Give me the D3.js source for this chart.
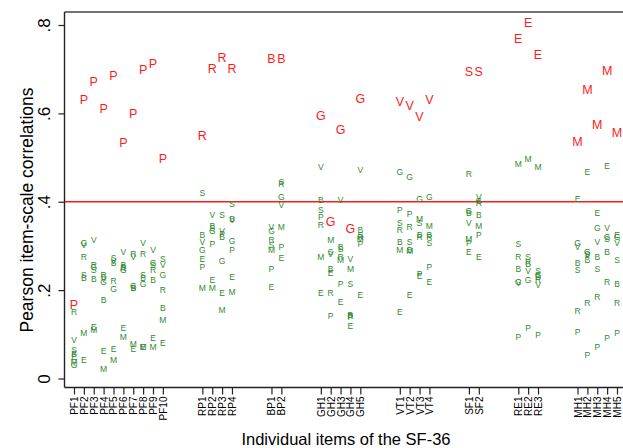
<!DOCTYPE html>
<html><head><meta charset="utf-8">
<script src="https://cdn.jsdelivr.net/npm/d3@7"></script>
<style>
html,body{margin:0;padding:0;background:#fff;}
svg{display:block;font-family:"Liberation Sans",Arial,Helvetica,sans-serif;}
</style></head>
<body><svg id="c" width="623" height="448"></svg>
<script>
// Items of the SF-36, by scale
const groups = ["PF","RP","BP","GH","VT","SF","RE","MH"];
const groupSizes = [10,4,2,5,4,2,3,5];
const scaleLetters = ["P","R","B","G","V","S","E","M"];
const items = ["PF1","PF2","PF3","PF4","PF5","PF6","PF7","PF8","PF9","PF10",
  "RP1","RP2","RP3","RP4","BP1","BP2","GH1","GH2","GH3","GH4","GH5",
  "VT1","VT2","VT3","VT4","SF1","SF2","RE1","RE2","RE3","MH1","MH2","MH3","MH4","MH5"];
const yTicks = [0, 0.2, 0.4, 0.6, 0.8];
const yTickLabels = ["0", ".2", ".4", ".6", ".8"];
const threshold = 0.4;

// Item-scale correlations, one array per scale (order follows items)
const P = [0.168,0.632,0.673,0.610,0.686,0.534,0.600,0.700,0.712,0.497,
  0.253,0.304,0.328,0.292, 0.249,0.298, 0.365,0.141,0.214,0.139,0.304,
  0.381,0.372,0.237,0.253, 0.306,0.325, 0.095,0.115,0.098, 0.105,0.053,0.072,0.091,0.102];
const R = [0.150,0.274,0.257,0.234,0.221,0.250,0.283,0.283,0.246,0.200,
  0.551,0.702,0.727,0.702, 0.313,0.440, 0.347,0.193,0.276,0.142,0.321,
  0.336,0.344,0.321,0.320, 0.464,0.397, 0.276,0.264,0.223, 0.154,0.170,0.185,0.219,0.170];
const B = [0.055,0.227,0.225,0.178,0.262,0.257,0.206,0.227,0.223,0.159,
  0.325,0.345,0.321,0.360, 0.725,0.725, 0.404,0.247,0.298,0.144,0.336,
  0.310,0.292,0.326,0.326, 0.375,0.370, 0.249,0.259,0.229, 0.262,0.268,0.274,0.286,0.213];
const G = [0.031,0.307,0.253,0.219,0.202,0.246,0.209,0.213,0.261,0.234,
  0.291,0.335,0.267,0.312, 0.335,0.411, 0.596,0.355,0.564,0.340,0.634,
  0.467,0.457,0.406,0.410, 0.380,0.402, 0.219,0.222,0.234, 0.307,0.287,0.340,0.320,0.320];
const V = [0.087,0.303,0.313,0.226,0.266,0.287,0.274,0.306,0.291,0.257,
  0.310,0.370,0.333,0.358, 0.344,0.393, 0.479,0.283,0.404,0.270,0.472,
  0.626,0.617,0.592,0.632, 0.352,0.411, 0.217,0.243,0.212, 0.297,0.280,0.310,0.340,0.306];
const S = [0.065,0.234,0.246,0.230,0.272,0.253,0.204,0.234,0.258,0.270,
  0.419,0.340,0.370,0.396, 0.302,0.445, 0.381,0.287,0.294,0.215,0.325,
  0.351,0.310,0.351,0.306, 0.695,0.694, 0.304,0.274,0.244, 0.246,0.283,0.249,0.315,0.268];
const E = [0.048,0.043,0.117,0.063,0.068,0.114,0.068,0.072,0.092,0.081,
  0.270,0.224,0.193,0.229, 0.208,0.272, 0.193,0.238,0.174,0.119,0.189,
  0.150,0.189,0.232,0.219, 0.286,0.274, 0.770,0.806,0.734, 0.406,0.468,0.374,0.482,0.325];
const M = [0.038,0.102,0.111,0.021,0.042,0.093,0.078,0.072,0.072,0.132,
  0.206,0.206,0.155,0.197, 0.291,0.344, 0.276,0.313,0.268,0.249,0.315,
  0.291,0.289,0.361,0.345, 0.316,0.345, 0.485,0.496,0.478, 0.536,0.654,0.575,0.697,0.557];
const seriesByLetter = {P, R, B, G, V, S, E, M};

const svg = d3.select("#c");
const W = 623, H = 448;
const padLeft = 64.5, padTop = 12, axisY = 387.5;
const red = "#ff1a1a", green = "#2f8a2f", axisCol = "#222";

// x slots: items with 3 empty slots between groups
const slots = [];
groups.forEach((g, gi) => {
  for (let k = 1; k <= groupSizes[gi]; k++) slots.push(g + k);
  if (gi < groups.length - 1) for (let k = 0; k < 3; k++) slots.push("gap" + gi + "_" + k);
});
const x = d3.scalePoint().domain(slots).range([74, 617]);
const y = d3.scaleLinear().domain([0, 0.8]).range([378.5, 25]);

// frame
svg.append("line").attr("x1", padLeft).attr("x2", W).attr("y1", padTop).attr("y2", padTop)
  .attr("stroke", "#444").attr("stroke-width", 1.3);
// threshold line
svg.append("line").attr("x1", padLeft).attr("x2", W).attr("y1", y(threshold)).attr("y2", y(threshold))
  .attr("stroke", red).attr("stroke-width", 1.5);

// y axis
const yAxis = d3.axisLeft(y).tickValues(yTicks).tickSize(6).tickFormat((d, i) => yTickLabels[i]);
const ya = svg.append("g").attr("transform", `translate(${padLeft},0)`).call(yAxis);
ya.select(".domain").attr("d", `M0,${padTop}V${axisY}`).attr("stroke", axisCol).attr("stroke-width", 1.4);
ya.selectAll(".tick line").attr("stroke", axisCol).attr("stroke-width", 1.2);
ya.selectAll(".tick text").attr("x", null).attr("dy", null)
  .attr("transform", "translate(-14.5,0) rotate(-90)")
  .attr("text-anchor", "middle").attr("fill", "#000")
  .style("font-size", "17px").style("font-family", "'Liberation Sans',Arial,sans-serif");

// x axis
const xAxis = d3.axisBottom(x).tickValues(items).tickSize(7);
const xa = svg.append("g").attr("transform", `translate(0,${axisY})`).call(xAxis);
xa.select(".domain").attr("d", `M${padLeft},0H${W}`).attr("stroke", axisCol).attr("stroke-width", 1.4);
xa.selectAll(".tick line").attr("stroke", axisCol).attr("stroke-width", 1.2);
xa.selectAll(".tick text").attr("y", null).attr("dy", "0.35em")
  .attr("transform", "translate(0,9) rotate(-90)")
  .attr("text-anchor", "end").attr("fill", "#000")
  .style("font-size", "10px").style("font-family", "'Liberation Sans',Arial,sans-serif");

// axis titles
svg.append("text").attr("x", 346).attr("y", 445).attr("text-anchor", "middle")
  .style("font-size", "16.5px").text("Individual items of the SF-36");
svg.append("text").attr("transform", "translate(32.5,210) rotate(-90)").attr("text-anchor", "middle")
  .style("font-size", "17.5px").text("Pearson item-scale correlations");

// letters: green (other scales) first, then red (own scale)
const pts = [];
items.forEach((key, i) => {
  const own = scaleLetters[groups.indexOf(key.replace(/\d+$/, ""))];
  scaleLetters.forEach(L => {
    pts.push({key, L, v: seriesByLetter[L][i], own: L === own});
  });
});
const lg = svg.append("g");
lg.selectAll("text.gr").data(pts.filter(d => !d.own)).join("text").attr("class", "gr")
  .attr("x", d => x(d.key)).attr("y", d => y(d.v)).attr("dy", "0.36em")
  .attr("text-anchor", "middle").attr("fill", green).style("font-size", "8.5px").text(d => d.L);
lg.selectAll("text.rd").data(pts.filter(d => d.own)).join("text").attr("class", "rd")
  .attr("x", d => x(d.key)).attr("y", d => y(d.v)).attr("dy", "0.36em")
  .attr("text-anchor", "middle").attr("fill", red).style("font-size", "12.5px").text(d => d.L);
</script></body></html>
